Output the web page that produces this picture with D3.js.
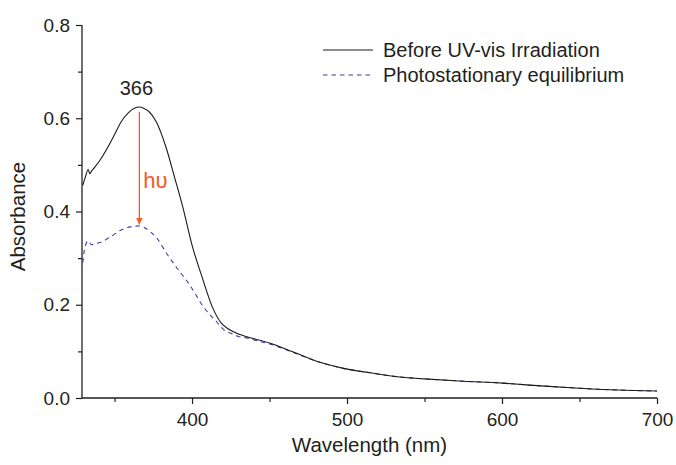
<!DOCTYPE html>
<html lang="en">
<head>
<meta charset="utf-8">
<title>Absorbance spectrum</title>
<script src="https://cdn.jsdelivr.net/npm/d3@7"></script>
<style>
  body { margin: 0; background: #fff; }
  svg text { font-family: "Liberation Sans", Arial, sans-serif; fill: #231f20; }
</style>
</head>
<body>
<div id="chart"></div>
<script>
// wavelengths (nm) and absorbance
const beforeNm = [329.5, 331, 333, 334, 335, 337, 341, 346, 350, 354, 359, 363, 366, 369, 372, 377, 383, 389, 394, 400, 407, 413, 419, 424, 431, 440, 450, 465, 482, 497, 515, 534, 550, 575, 600, 625, 650, 675, 700];
const beforeAbs = [0.456, 0.472, 0.49, 0.481, 0.486, 0.494, 0.512, 0.54, 0.565, 0.591, 0.612, 0.622, 0.624, 0.621, 0.615, 0.592, 0.54, 0.47, 0.41, 0.328, 0.254, 0.196, 0.16, 0.147, 0.136, 0.127, 0.118, 0.099, 0.077, 0.064, 0.054, 0.045, 0.041, 0.036, 0.032, 0.026, 0.021, 0.017, 0.015];

const pssNm = [329.5, 331, 333, 335, 338, 341, 348, 354, 360, 366, 370, 374, 378, 383, 390, 399, 407, 416, 421, 425, 430, 435, 444, 450, 465, 482, 497, 515, 534, 550, 575, 600, 625, 650, 675, 700];
const pssAbs = [0.29, 0.325, 0.337, 0.329, 0.331, 0.334, 0.347, 0.36, 0.367, 0.369, 0.364, 0.354, 0.34, 0.313, 0.28, 0.24, 0.197, 0.163, 0.145, 0.139, 0.132, 0.129, 0.121, 0.116, 0.098, 0.077, 0.064, 0.054, 0.045, 0.041, 0.036, 0.032, 0.026, 0.021, 0.017, 0.015];

const xTicks = [400, 500, 600, 700];
const xMinor = [350, 450, 550, 650];
const yTicks = [0.0, 0.2, 0.4, 0.6, 0.8];
const yMinor = [0.1, 0.3, 0.5, 0.7];

const seriesNames = ["Before UV-vis Irradiation", "Photostationary equilibrium"];
const peakNm = 366;
const arrowFrom = 0.614, arrowTo = 0.372;

const margin = {top: 25, right: 19, bottom: 67, left: 82};
const W = 676, H = 465;
const w = W - margin.left - margin.right;
const h = H - margin.top - margin.bottom;

const x = d3.scaleLinear().domain([329, 700]).range([0, w]);
const y = d3.scaleLinear().domain([0, 0.8]).range([h, 0]);

const svg = d3.select("#chart").append("svg")
  .attr("width", W)
  .attr("height", H);

const g = svg.append("g")
  .attr("transform", "translate(" + margin.left + "," + margin.top + ")");

svg.append("defs").append("marker")
    .attr("id", "arrow")
    .attr("viewBox", "0 0 10 10")
    .attr("refX", 10).attr("refY", 5)
    .attr("markerWidth", 7).attr("markerHeight", 8)
    .attr("markerUnits", "userSpaceOnUse")
    .attr("orient", "auto")
  .append("path")
    .attr("d", "M0,0 L10,5 L0,10 z")
    .attr("fill", "#f15a29");

// axes
const xAxis = g.append("g")
  .attr("transform", "translate(0," + h + ")")
  .call(d3.axisBottom(x).tickValues(xTicks).tickSize(6).tickPadding(9).tickFormat(d3.format("d")));
g.append("g")
  .attr("transform", "translate(0," + h + ")")
  .call(d3.axisBottom(x).tickValues(xMinor).tickSize(4).tickFormat(""))
  .select(".domain").remove();

const yAxis = g.append("g")
  .call(d3.axisLeft(y).tickValues(yTicks).tickSize(6).tickPadding(6).tickFormat(d3.format(".1f")));
g.append("g")
  .call(d3.axisLeft(y).tickValues(yMinor).tickSize(4).tickFormat(""))
  .select(".domain").remove();

g.selectAll(".domain").attr("stroke", "#231f20").attr("stroke-width", 1.3);
g.selectAll(".tick line").attr("stroke", "#231f20").attr("stroke-width", 1.2);
g.selectAll(".tick text").attr("font-size", 19).attr("fill", "#231f20");
xAxis.select(".domain").attr("d", "M0,0H" + w);
yAxis.select(".domain").attr("d", "M0," + h + "V0");

// axis titles
g.append("text")
  .attr("x", w / 2)
  .attr("y", h + 54)
  .attr("text-anchor", "middle")
  .attr("font-size", 20.5)
  .text("Wavelength (nm)");

g.append("text")
  .attr("transform", "translate(" + (-57) + "," + (h / 2 + 5) + ") rotate(-90)")
  .attr("text-anchor", "middle")
  .attr("font-size", 20.5)
  .text("Absorbance");

// lines
const line = d3.line()
  .x(d => x(d[0]))
  .y(d => y(d[1]))
  .curve(d3.curveMonotoneX);

g.append("path")
  .datum(d3.zip(pssNm, pssAbs))
  .attr("fill", "none")
  .attr("stroke", "#3b3ba6")
  .attr("stroke-width", 1.1)
  .attr("stroke-dasharray", "4.5,4")
  .attr("d", line);

g.append("path")
  .datum(d3.zip(beforeNm, beforeAbs))
  .attr("fill", "none")
  .attr("stroke", "#1a1a1a")
  .attr("stroke-width", 1.1)
  .attr("d", line);

// annotation
g.append("text")
  .attr("x", x(peakNm) - 3)
  .attr("y", y(0.649))
  .attr("text-anchor", "middle")
  .attr("font-size", 20)
  .text(String(peakNm));

g.append("line")
  .attr("x1", x(peakNm)).attr("x2", x(peakNm))
  .attr("y1", y(arrowFrom)).attr("y2", y(arrowTo))
  .attr("stroke", "#f15a29")
  .attr("stroke-width", 1.3)
  .attr("marker-end", "url(#arrow)");

g.append("text")
  .attr("x", x(peakNm) + 4)
  .attr("y", y(0.45))
  .attr("font-size", 22)
  .style("fill", "#f15a29")
  .text("h\u03C5");

// legend
const legend = g.append("g").attr("transform", "translate(" + (323 - margin.left) + "," + (50 - margin.top) + ")");
legend.append("line")
  .attr("x1", 0).attr("x2", 50).attr("y1", 0).attr("y2", 0)
  .attr("stroke", "#1a1a1a").attr("stroke-width", 1.1);
legend.append("line")
  .attr("x1", 0).attr("x2", 50).attr("y1", 25).attr("y2", 25)
  .attr("stroke", "#3b3ba6").attr("stroke-width", 1.1).attr("stroke-dasharray", "4.5,4");
legend.selectAll("text.leg")
  .data(seriesNames)
  .join("text")
  .attr("class", "leg")
  .attr("x", 60)
  .attr("y", (d, i) => i * 25 + 7)
  .attr("font-size", 20)
  .text(d => d);
</script>
</body>
</html>
